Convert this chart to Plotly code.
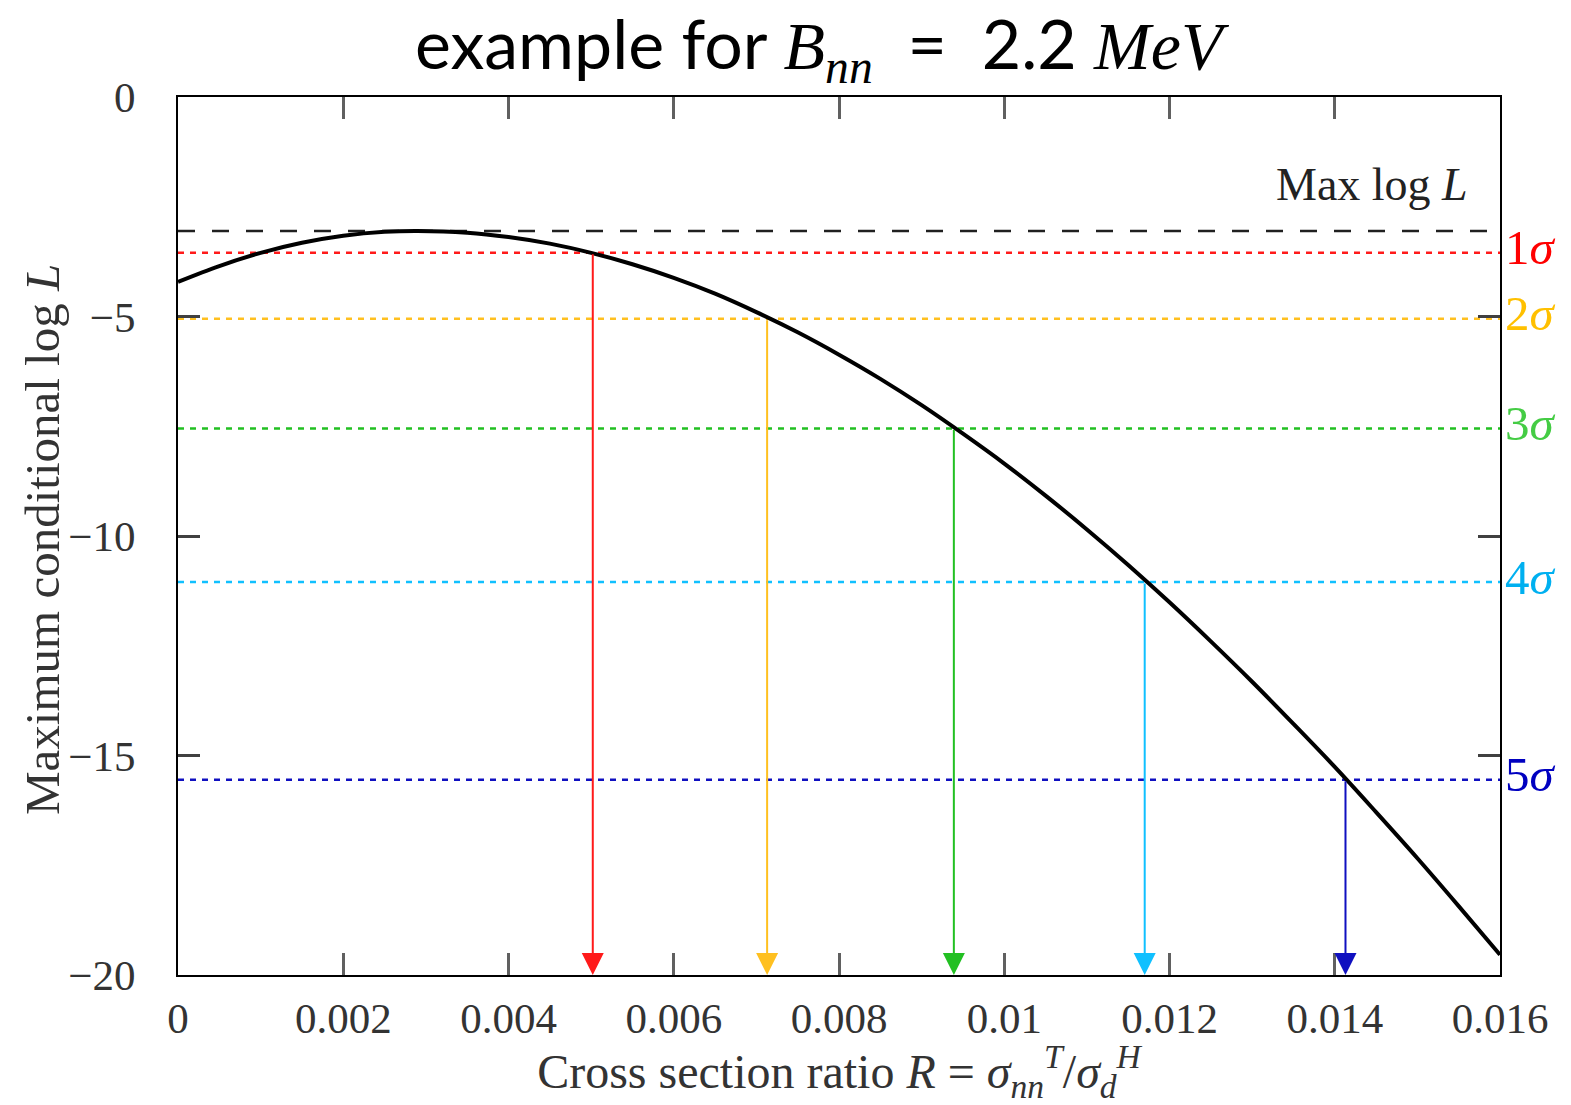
import plotly.graph_objects as go

# Curve (every 0.0005)
curve_x = [0.0, 0.0005, 0.001, 0.0015, 0.002, 0.0025, 0.0029, 0.0035, 0.004, 0.0045,
           0.005, 0.0055, 0.006, 0.0065, 0.007, 0.0075, 0.008, 0.0085, 0.009, 0.0095,
           0.010, 0.0105, 0.011, 0.0115, 0.012, 0.0125, 0.013, 0.0135, 0.014, 0.0145,
           0.015, 0.0155, 0.016]
curve_y = [-4.21, -3.85, -3.55, -3.32, -3.16, -3.07, -3.05, -3.09, -3.19, -3.34,
           -3.55, -3.81, -4.12, -4.48, -4.90, -5.36, -5.87, -6.42, -7.02, -7.67,
           -8.35, -9.08, -9.85, -10.66, -11.51, -12.40, -13.32, -14.28, -15.26, -16.29,
           -17.34, -18.43, -19.54]

max_level = -3.05
sigma_labels = ["1σ", "2σ", "3σ", "4σ", "5σ"]
sigma_levels = [-3.55, -5.05, -7.55, -11.05, -15.55]
sigma_cross_x = [0.00502, 0.00713, 0.00939, 0.01170, 0.01413]
line_colors = ["#FF1A1A", "#FFC020", "#22C022", "#10C0FF", "#1010C0"]
text_colors = ["#FF0000", "#FFC000", "#44CC44", "#00B0F0", "#0000C0"]

x_ticks = [0, 0.002, 0.004, 0.006, 0.008, 0.01, 0.012, 0.014, 0.016]
x_tick_text = ["0", "0.002", "0.004", "0.006", "0.008", "0.01", "0.012", "0.014", "0.016"]
y_ticks = [0, -5, -10, -15, -20]
y_tick_text = ["0", "−5", "−10", "−15", "−20"]

XR = [0, 0.016]
YR = [-20, 0]

PL, PR, PT, PB = 178, 1500, 97, 975  # plot area in pixels


def px_to_paper_x(px):
    return (px - PL) / (PR - PL)


def px_to_paper_y(py):
    return (PB - py) / (PB - PT)


fig = go.Figure()

# Max log L dashed line
fig.add_trace(go.Scatter(x=XR, y=[max_level, max_level], mode="lines",
                         line=dict(color="#202020", width=2.5, dash="17px,17px"),
                         showlegend=False, hoverinfo="skip"))

# sigma dotted lines
for lvl, c in zip(sigma_levels, line_colors):
    fig.add_trace(go.Scatter(x=XR, y=[lvl, lvl], mode="lines",
                             line=dict(color=c, width=2.5, dash="6px,6px"),
                             showlegend=False, hoverinfo="skip"))

# main curve
fig.add_trace(go.Scatter(x=curve_x, y=curve_y, mode="lines",
                         line=dict(color="black", width=4, shape="spline", smoothing=1),
                         showlegend=False, hoverinfo="skip"))

annotations = []
# arrows
for xc, lvl, c in zip(sigma_cross_x, sigma_levels, line_colors):
    annotations.append(dict(x=xc, y=YR[0], ax=xc, ay=lvl, xref="x", yref="y",
                            axref="x", ayref="y", text="", showarrow=True,
                            arrowhead=2, arrowsize=2.2, arrowwidth=2, arrowcolor=c))

# sigma labels on right
for lab, lvl, c in zip(sigma_labels, sigma_levels, text_colors):
    annotations.append(dict(x=1.002, y=lvl, xref="paper", yref="y", xanchor="left",
                            yanchor="middle", yshift=5, showarrow=False,
                            text=lab[0] + "<i>" + lab[1] + "</i>",
                            font=dict(family="Liberation Serif", size=49, color=c)))

# Max log L text
annotations.append(dict(x=px_to_paper_x(1470), y=-2.0, xref="paper", yref="y", xanchor="right",
                        yanchor="middle", showarrow=False,
                        text="Max log <i>L</i>",
                        font=dict(family="Liberation Serif", size=46, color="#222222")))

# y-axis title
annotations.append(dict(x=px_to_paper_x(42), y=px_to_paper_y(540), xref="paper", yref="paper",
                        xanchor="center", yanchor="middle", textangle=-90, showarrow=False,
                        text="Maximum conditional log <i>L</i>",
                        font=dict(family="Liberation Serif", size=49, color="#333333")))

# Title
annotations.append(dict(x=px_to_paper_x(822), y=px_to_paper_y(0),
                        xref="paper", yref="paper", xanchor="center",
                        yanchor="top", showarrow=False,
                        text='example for <span style="font-family:Liberation Serif"><i>B</i><sub><i>nn</i></sub></span>&nbsp; = &nbsp;2.2 <span style="font-family:Liberation Serif"><i>MeV</i></span>',
                        font=dict(family="Lato", size=68, color="black")))

fig.update_layout(
    width=1571, height=1105,
    margin=dict(l=PL, r=1571 - PR, t=PT, b=1105 - PB),
    plot_bgcolor="white", paper_bgcolor="white",
    annotations=annotations,
    font=dict(family="Liberation Serif", color="#222222"),
)

fig.update_xaxes(range=XR, tickvals=x_ticks, ticktext=x_tick_text,
                 ticks="inside", ticklen=22, tickwidth=2.5, tickcolor="#606060",
                 showline=True, linecolor="black", linewidth=2, mirror="ticks",
                 showgrid=False, zeroline=False,
                 tickfont=dict(family="Liberation Serif", size=43, color="#333333"),
                 ticklabelstandoff=4,
                 title=dict(text="Cross section ratio <i>R</i> = <i>σ</i><sub><i>nn</i></sub><sup><i>T</i></sup>/<i>σ</i><sub><i>d</i></sub><sup><i>H</i></sup>",
                            font=dict(family="Liberation Serif", size=48, color="#333333"),
                            standoff=8))
fig.update_yaxes(range=YR, tickvals=y_ticks, ticktext=y_tick_text,
                 ticks="inside", ticklen=22, tickwidth=2.5, tickcolor="#404040",
                 showline=True, linecolor="black", linewidth=2, mirror="ticks",
                 showgrid=False, zeroline=False,
                 tickfont=dict(family="Liberation Serif", size=43, color="#333333"),
                 ticklabelstandoff=32)

fig.write_html("out.html")
